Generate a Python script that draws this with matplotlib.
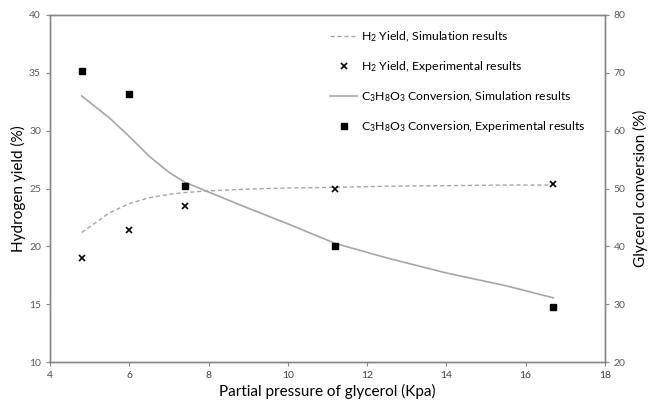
import matplotlib
matplotlib.use("Agg")
import matplotlib.pyplot as plt

plt.rcParams["font.family"] = ["Lato", "DejaVu Sans"]
plt.rcParams["mathtext.fontset"] = "custom"
plt.rcParams["mathtext.rm"] = "Lato"
plt.rcParams["mathtext.it"] = "Lato"
plt.rcParams["mathtext.default"] = "rm"

# experimental points
exp_pressure = [4.8, 6.0, 7.4, 11.2, 16.7]
exp_h2_yield = [19.0, 21.4, 23.5, 25.0, 25.4]
exp_conversion = [70.4, 66.4, 50.4, 40.0, 29.5]

# simulation curves
sim_pressure = [4.8, 5.5, 6.0, 6.5, 7.0, 7.4, 8.0, 9.0, 10.0, 11.2, 12.5, 14.0, 15.5, 16.7]
sim_h2_yield = [21.2, 22.9, 23.7, 24.2, 24.5, 24.65, 24.8, 24.95, 25.05, 25.1, 25.2, 25.25, 25.3, 25.3]
sim_conversion = [66.0, 62.2, 59.0, 55.6, 52.8, 51.1, 49.4, 46.6, 43.9, 40.5, 38.0, 35.4, 33.2, 31.1]

xticks = [4, 6, 8, 10, 12, 14, 16, 18]
left_ticks = [10, 15, 20, 25, 30, 35, 40]
right_ticks = [20, 30, 40, 50, 60, 70, 80]

grey = "#868686"
tick_grey = "#595959"

fig = plt.figure(figsize=(6.59, 4.05), dpi=100)
ax = fig.add_axes([0.0759, 0.106, 0.842, 0.857])
ax2 = ax.twinx()

h1, = ax.plot(sim_pressure, sim_h2_yield, color="#a6a6a6", lw=1.0, ls=(0, (3, 2)),
              label=r"H$_2$ Yield, Simulation results")
h2, = ax.plot(exp_pressure, exp_h2_yield, ls="none", marker="x", ms=5, mew=1.2,
              color="black", label=r"H$_2$ Yield, Experimental results")
h3, = ax2.plot(sim_pressure, sim_conversion, color="#a6a6a6", lw=1.2,
               label=r"C$_3$H$_8$O$_3$ Conversion, Simulation results")
h4, = ax2.plot(exp_pressure, exp_conversion, ls="none", marker="s", ms=4.5,
               color="black", label=r"C$_3$H$_8$O$_3$ Conversion, Experimental results")

ax.set_xlim(4, 18)
ax.set_ylim(10, 40)
ax2.set_ylim(20, 80)
ax.set_xticks(xticks)
ax.set_yticks(left_ticks)
ax2.set_yticks(right_ticks)

for a in (ax, ax2):
    for s in a.spines.values():
        s.set_color(grey)
        s.set_linewidth(1.0)
    a.tick_params(colors=grey, labelcolor=tick_grey, labelsize=7.5, length=3, width=0.8)
ax.tick_params(axis="x", labelcolor="#404040")

ax.set_xlabel("Partial pressure of glycerol (Kpa)", fontsize=11, labelpad=3)
ax.set_ylabel("Hydrogen yield (%)", fontsize=11, labelpad=2)
ax2.set_ylabel("Glycerol conversion (%)", fontsize=11, labelpad=5)

ax.legend(handles=[h1, h2, h3, h4], loc="upper left", bbox_to_anchor=(0.485, 0.99),
          frameon=False, fontsize=8.8, labelspacing=1.25, handlelength=2.2,
          handletextpad=0.3)

fig.savefig("out.png", dpi=100)
